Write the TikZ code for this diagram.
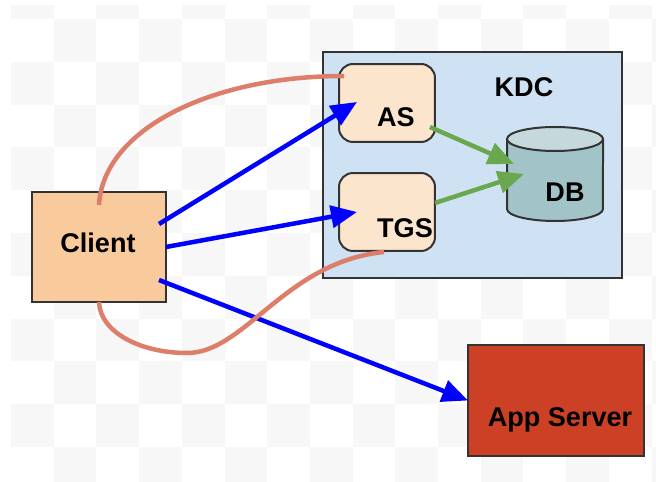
\documentclass[tikz,border=0pt]{standalone}
\usepackage{fontspec}
\setmainfont{Liberation Sans}
\usetikzlibrary{arrows.meta}
\definecolor{tilegray}{HTML}{F7F7F7}
\definecolor{kdcblue}{HTML}{CFE2F3}
\definecolor{clientorange}{HTML}{F9CB9C}
\definecolor{boxcream}{HTML}{FCE5CD}
\definecolor{dbteal}{HTML}{A2C4C9}
\definecolor{dbtop}{HTML}{C5D8DB}
\definecolor{apptred}{HTML}{CC4125}
\definecolor{edgegray}{HTML}{333333}
\definecolor{flowgreen}{HTML}{6AA84F}
\definecolor{salmon}{HTML}{DD7E6B}
\begin{document}
\begin{tikzpicture}
		[x=.02cm,y=-.02cm,
		box/.style={rectangle,draw=edgegray,line width=.04cm,inner sep=0pt,outer sep=0pt},
		service/.style={box,fill=boxcream,rounded corners=.28cm,minimum width=1.92cm,minimum height=1.56cm},
		plain/.style={draw=none,fill=none,font=\fontsize{15.4}{18}\selectfont\bfseries,inner sep=0pt},
		request/.style={-{Triangle[length=.52cm,width=.44cm]},line width=.09cm,blue},
		lookup/.style={-{Triangle[length=.52cm,width=.44cm]},line width=.09cm,flowgreen},
		reply/.style={line width=.09cm,salmon}
		]
		\useasboundingbox (0,0) rectangle (656,482);
		\begin{scope}
			\clip (11,6) rectangle (656,482);
			\foreach \c in {0,...,15}
				\foreach \r in {0,...,11}{
					\pgfmathparse{int(mod(\c+\r,2))}
					\ifnum\pgfmathresult=0
						\fill[tilegray] (11+42.7*\c,-23.8+42.8*\r) rectangle +(42.7,42.8);
					\fi
				}
		\end{scope}

		\node[box,fill=kdcblue,minimum width=5.98cm,minimum height=4.52cm] (kdc) at (472.5,165){};
		\node[service] (as) at (387,103){};
		\node[service] (tgs) at (387,212){};
		\node[inner sep=0pt,minimum width=1.92cm,minimum height=1.88cm] (db) at (555,174){};
		\draw[draw=edgegray,line width=.04cm,fill=dbteal] (507,139) -- (507,209) arc[start angle=180,end angle=360,x radius=.96cm,y radius=.24cm] -- (603,139);
		\draw[draw=edgegray,line width=.04cm,fill=dbtop] (555,139) ellipse[x radius=.96cm,y radius=.24cm];
		\node[box,fill=clientorange,minimum width=2.68cm,minimum height=2.2cm] (client) at (99,247){};
		\node[box,fill=apptred,minimum width=3.52cm,minimum height=2.22cm] (app) at (556,400.5){};

		\node[plain] (kdclabel) at (524,87){KDC};
		\node[plain] (aslabel) at (396,117){AS};
		\node[plain] (tgslabel) at (405,228){TGS};
		\node[plain] (dblabel) at (565,192){DB};
		\node[plain] (clientlabel) at (98,243){Client};
		\node[plain] (applabel) at (560,420){App Server};

		\draw[request] ([shift={(-7,33)}]client.east) -- (app.west);
		\draw[reply] ([shift={(0,13)}]client.north) .. controls (103,130) and (210,76) .. ([shift={(5,12)}]as.north west);
		\draw[reply] (client.south) .. controls (100,332) and (140,353) .. (187,353) .. controls (245,353) and (285,262) .. ([shift={(-3,1)}]tgs.south);
		\draw[request] ([shift={(-7,-23)}]client.east) -- ([shift={(18,-1)}]as.west);
		\draw[request] (client.east) -- ([shift={(18,0)}]tgs.west);
		\draw[lookup] ([shift={(-5,24)}]as.east) -- ([shift={(-41,-10)}]db.center);
		\draw[lookup] ([shift={(0,-9)}]tgs.east) -- ([shift={(-31,0)}]db.center);
	\end{tikzpicture}
\end{document}
